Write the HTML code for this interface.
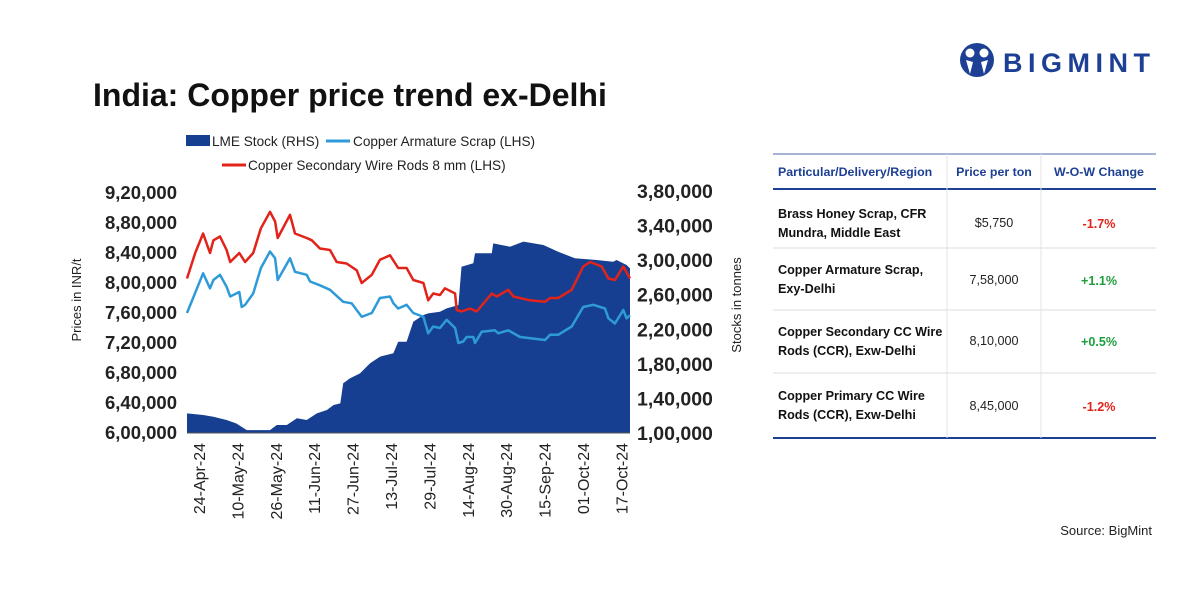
<!DOCTYPE html>
<html><head><meta charset="utf-8"><style>
body{margin:0;background:#fff;font-family:"Liberation Sans",sans-serif}
#wrap{position:relative;width:1200px;height:600px;overflow:hidden}
</style></head><body>
<div id="wrap">
<svg id="svg" width="1200" height="600" viewBox="0 0 1200 600">
<g>
<circle cx="977" cy="60" r="17" fill="#1d3f94"/>
<circle cx="970" cy="53" r="4.5" fill="#fff"/><circle cx="984" cy="53" r="4.5" fill="#fff"/>
<path d="M966 60 L970 74 L973 62 Z M988 60 L984 74 L981 62 Z" fill="#fff"/>
<text x="1003" y="72" font-size="27" font-weight="bold" fill="#1d3f94" letter-spacing="5.5">BIGMINT</text>
</g>
<text x="93" y="106" font-size="32" font-weight="bold" fill="#111">India: Copper price trend ex-Delhi</text>
<g font-size="13.6" fill="#222">
<g><rect x="186" y="135" width="24" height="11" fill="#163f91"/><text x="212" y="146">LME Stock (RHS)</text></g>
<g><line x1="326" y1="141" x2="350" y2="141" stroke="#2e9bd8" stroke-width="3"/><text x="353" y="146">Copper Armature Scrap (LHS)</text></g>
<g><line x1="222" y1="165" x2="246" y2="165" stroke="#e2231a" stroke-width="3"/><text x="248" y="170">Copper Secondary Wire Rods 8 mm (LHS)</text></g>
</g>
<g id="plot"></g>
<text transform="translate(81,300) rotate(-90)" font-size="13" text-anchor="middle" fill="#222">Prices in INR/t</text>
<text transform="translate(741,305) rotate(-90)" font-size="13" text-anchor="middle" fill="#222">Stocks in tonnes</text>
<g font-size="12.6">
<line x1="773" y1="154" x2="1156" y2="154" stroke="#8a9bc8" stroke-width="1.5"/>
<line x1="773" y1="189" x2="1156" y2="189" stroke="#1d3f94" stroke-width="2"/>
<line x1="773" y1="248" x2="1156" y2="248" stroke="#ddd"/>
<line x1="773" y1="310" x2="1156" y2="310" stroke="#ddd"/>
<line x1="773" y1="373" x2="1156" y2="373" stroke="#ddd"/>
<line x1="773" y1="438" x2="1156" y2="438" stroke="#1d3f94" stroke-width="2"/>
<line x1="947" y1="154" x2="947" y2="438" stroke="#e3e3e3"/>
<line x1="1041" y1="154" x2="1041" y2="438" stroke="#e3e3e3"/>
<g fill="#1d3f94" font-weight="bold" font-size="12.4">
<text x="778" y="176">Particular/Delivery/Region</text><text x="994" y="176" text-anchor="middle">Price per ton</text><text x="1099" y="176" text-anchor="middle">W-O-W Change</text></g>
<g fill="#111" font-weight="bold">
<text x="778" y="218">Brass Honey Scrap, CFR</text><text x="778" y="237">Mundra, Middle East</text>
<text x="778" y="274">Copper Armature Scrap,</text><text x="778" y="293">Exy-Delhi</text>
<text x="778" y="336">Copper Secondary CC Wire</text><text x="778" y="355">Rods (CCR), Exw-Delhi</text>
<text x="778" y="400">Copper Primary CC Wire</text><text x="778" y="419">Rods (CCR), Exw-Delhi</text></g>
<g fill="#222" text-anchor="middle">
<text x="994" y="227">$5,750</text><text x="994" y="284">7,58,000</text><text x="994" y="345">8,10,000</text><text x="994" y="410">8,45,000</text></g>
<g font-weight="bold" text-anchor="middle">
<text x="1099" y="228" fill="#e2231a">-1.7%</text><text x="1099" y="285" fill="#1d9e3c">+1.1%</text><text x="1099" y="346" fill="#1d9e3c">+0.5%</text><text x="1099" y="411" fill="#e2231a">-1.2%</text></g>
</g>
<text x="1152" y="535" font-size="13" text-anchor="end" fill="#222">Source: BigMint</text>
</svg>
</div>
<script>
const stockDays=[0,6.7,11,16.5,20.6,24.9,34.6,37.4,41.6,45.8,49.9,54.1,58.3,61.1,63.9,65.1,67.9,72.1,76.3,80.4,86,88,91.5,94.3,98.5,100.5,105.4,108.2,113.1,114.4,119.3,120,127,127.6,134.6,140.2,148.5,154.7,161.6,170.7,177.6,179,183.2,184.6];
const stockVals=[122.7,120.8,118.9,115,111,103.4,103.4,109.2,109.2,117,115,122.7,126.6,132.4,134.3,157.5,163.2,169,180.6,188.3,192.2,205.6,205.6,228.8,236.5,238.4,240.4,244.2,248,292.4,296.3,307.9,307.9,319.4,315.6,321.4,317.5,309.8,302.1,300.2,298.2,300.2,294.4,290.5];
const redDays=[0,3.4,6.7,9.6,11,13.75,16.5,18,21.8,24.2,27.6,30.8,34.6,36.7,37.8,42.9,45,49.9,52,55.4,59.6,62.4,66.5,70.7,72.8,77,80.4,84.6,88,91.5,94.3,98.5,100.5,102.6,105.4,107.5,111.7,112.4,114.4,117.9,120.7,127,129,133.9,136,142.9,149.2,151.3,154.7,160.3,165.1,168,172.8,175.6,178.3,181.8,184.6];
const redVals=[806,840,866,840,857,862,844,828,840,828,840,873,895,882,860,891,866,860,857,846,844,828,826,817,800,811,831,837,820,820,804,800,777,786,784,793,786,764,762,766,762,786,782,791,782,777,775,780,780,791,822,828,822,806,804,822,806];
const blueDays=[0,6.7,9.6,11,13.75,16.5,18,21.8,22.8,24.2,27.6,30.8,34.6,36.7,37.8,42.9,45,49.9,51.3,55.4,59.6,65.1,68.6,72.8,77,80.4,84.6,86,88,91.5,94.3,98.5,100.5,102.6,105.4,108.2,111.7,113.1,115.1,116.5,119.3,120,122.8,128.3,129.7,133.9,138.8,149.2,151.3,154.7,160.3,165.1,169.3,174.2,175.6,178.3,181.8,183.2,184.6];
const blueVals=[760,813,793,804,811,795,782,788,768,771,786,820,842,833,804,833,815,811,802,797,791,775,773,755,760,780,782,773,766,771,760,755,733,742,740,751,740,720,722,728,728,720,735,737,733,737,728,724,731,731,742,768,771,766,753,746,764,753,757];
const leftTicks=["6,00,000","6,40,000","6,80,000","7,20,000","7,60,000","8,00,000","8,40,000","8,80,000","9,20,000"];
const leftTickVals=[600,640,680,720,760,800,840,880,920];
const rightTicks=["1,00,000","1,40,000","1,80,000","2,20,000","2,60,000","3,00,000","3,40,000","3,80,000"];
const rightTickVals=[100,140,180,220,260,300,340,380];
const dateLabels=["24-Apr-24","10-May-24","26-May-24","11-Jun-24","27-Jun-24","13-Jul-24","29-Jul-24","14-Aug-24","30-Aug-24","15-Sep-24","01-Oct-24","17-Oct-24"];
const dateDays=[5,21,37,53,69,85,101,117,133,149,165,181];

const X0=187,X1=630,D1=184.6,YB=433,YT=193;
const xs=d=>X0+d/D1*(X1-X0);
const yl=v=>YB-(v-600)/(920-600)*(YB-YT);
const yr=v=>YB-(v-100)/(380-100)*(YB-191);
const NS="http://www.w3.org/2000/svg";
const plot=document.getElementById('plot');
function mk(t,a){const e=document.createElementNS(NS,t);for(const k in a)e.setAttribute(k,a[k]);plot.appendChild(e);return e;}
let d=`M${xs(stockDays[0])},${YB}`;
stockDays.forEach((v,i)=>d+=` L${xs(v).toFixed(1)},${yr(stockVals[i]).toFixed(1)}`);
d+=` L${xs(stockDays[stockDays.length-1])},${YB} Z`;
const area=mk('path',{d:d,fill:'#163f91'});


const bl=mk('polyline',{points:blueDays.map((v,i)=>xs(v).toFixed(1)+','+yl(blueVals[i]).toFixed(1)).join(' '),fill:'none',stroke:'#2e9bd8','stroke-width':2.5,'stroke-linejoin':'round'});


const rl=mk('polyline',{points:redDays.map((v,i)=>xs(v).toFixed(1)+','+yl(redVals[i]).toFixed(1)).join(' '),fill:'none',stroke:'#e2231a','stroke-width':2.5,'stroke-linejoin':'round'});


const ax=mk('line',{x1:X0,y1:YB,x2:X1,y2:YB,stroke:'#555','stroke-width':1});


leftTicks.forEach((t,i)=>{const e=mk('text',{x:177,y:yl(leftTickVals[i])+6,'font-size':18.5,'font-weight':'bold','text-anchor':'end',fill:'#222'});e.textContent=t;

});
rightTicks.forEach((t,i)=>{const e=mk('text',{x:637,y:yr(rightTickVals[i])+7,'font-size':19.5,'font-weight':'bold',fill:'#222'});e.textContent=t;

});
dateLabels.forEach((t,i)=>{const x=xs(dateDays[i]);const e=mk('text',{transform:`translate(${x+6},443) rotate(-90)`,'font-size':16,'text-anchor':'end',fill:'#222'});e.textContent=t;

});
</script>
</body></html>
